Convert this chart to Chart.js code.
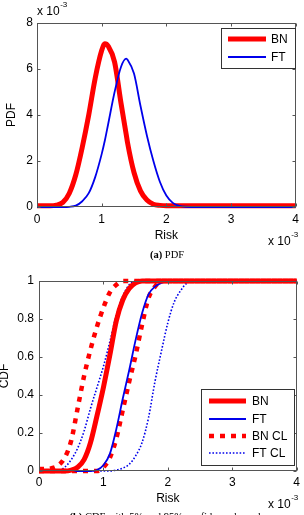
<!DOCTYPE html>
<html>
<head>
<meta charset="utf-8">
<script src="https://cdn.jsdelivr.net/npm/chart.js@4.4.1/dist/chart.umd.min.js"></script>
<style>
  body { margin: 0; background: #fff; width: 304px; height: 515px; overflow: hidden; position: relative; }
  #pdfChart { position: absolute; left: 0; top: 0; }
  #cdfChart { position: absolute; left: 0; top: 262px; }
  .caption { position: absolute; left: 0; width: 334px; text-align: center;
             font-family: "Liberation Serif", "Times New Roman", serif; font-size: 10.5px; color: #000; }
</style>
</head>
<body>
<canvas id="pdfChart" width="304" height="250"></canvas>
<div class="caption" style="top:249px"><b>(a)</b> PDF</div>
<canvas id="cdfChart" width="304" height="253"></canvas>
<div class="caption" style="top:511px"><b>(b)</b> CDF with 5% and 95% confidence bounds</div>
<script>
// risk axis is in units of 1e-3, pdf values in units of 1e-3
const riskTicks = [0, 1, 2, 3, 4];
const pdfTicks = [0, 2, 4, 6, 8];
const cdfTicks = [0, 0.2, 0.4, 0.6, 0.8, 1];

const pdfRisk = [0, 0.2, 0.3, 0.4, 0.5, 0.6, 0.7, 0.8, 0.9, 1.0, 1.05, 1.1, 1.2, 1.3, 1.38, 1.4, 1.5, 1.6, 1.7, 1.8, 1.9, 2.0, 2.1, 2.2, 2.3, 2.5, 3, 4];
const bnPdf   = [0.05, 0.05, 0.08, 0.2, 0.6, 1.4, 2.6, 4.0, 5.6, 6.8, 7.1, 7.0, 6.3, 4.5, 3.15, 2.8, 1.5, 0.7, 0.3, 0.12, 0.07, 0.05, 0.05, 0.05, 0.05, 0.05, 0.05, 0.05];
const ftPdf   = [0, 0, 0, 0, 0.01, 0.06, 0.25, 0.6, 1.3, 2.3, 2.9, 3.6, 5.0, 6.1, 6.45, 6.4, 5.8, 4.4, 3.1, 2.0, 1.1, 0.5, 0.18, 0.05, 0.01, 0, 0, 0];

const cdfRisk = [0, 0.1, 0.2, 0.3, 0.4, 0.5, 0.6, 0.7, 0.8, 0.9, 1.0, 1.1, 1.2, 1.3, 1.4, 1.5, 1.6, 1.7, 1.8, 1.9, 2.0, 2.1, 2.2, 2.3, 2.4, 4];
const bnCdf   = [0, 0, 0, 0, 0, 0.005, 0.02, 0.06, 0.15, 0.29, 0.44, 0.61, 0.79, 0.9, 0.96, 0.99, 1, 1, 1, 1, 1, 1, 1, 1, 1, 1];
const ftCdf   = [0, 0, 0, 0, 0, 0, 0, 0, 0, 0.005, 0.03, 0.09, 0.22, 0.38, 0.53, 0.69, 0.83, 0.93, 0.97, 0.99, 1, 1, 1, 1, 1, 1];
const bnCdfLo = [0.01, 0.01, 0.015, 0.03, 0.07, 0.16, 0.33, 0.5, 0.64, 0.76, 0.86, 0.94, 0.98, 1, 1, 1, 1, 1, 1, 1, 1, 1, 1, 1, 1, 1];
const bnCdfHi = [0, 0, 0, 0, 0, 0, 0, 0, 0, 0, 0.02, 0.07, 0.17, 0.32, 0.47, 0.61, 0.77, 0.91, 0.97, 1, 1, 1, 1, 1, 1, 1];
const ftCdfLo = [0, 0, 0, 0, 0.02, 0.06, 0.12, 0.21, 0.33, 0.44, 0.55, 0.68, 0.82, 0.92, 0.98, 1, 1, 1, 1, 1, 1, 1, 1, 1, 1, 1];
const ftCdfHi = [0, 0, 0, 0, 0, 0, 0, 0, 0, 0, 0, 0, 0.005, 0.015, 0.035, 0.08, 0.15, 0.28, 0.47, 0.63, 0.78, 0.89, 0.95, 0.99, 1, 1];

const RED = 'rgb(255,0,0)';
const BLUE = 'rgb(0,0,235)';
const FONT = '"Liberation Sans", Arial, sans-serif';

function pts(xs, ys) {
  return xs.map((x, i) => ({ x: x, y: ys[i] }));
}

function fixedTicks(list) {
  return function(scale) { scale.ticks = list.map(v => ({ value: v })); };
}

// box + inward tick marks on all four sides, like matlab
const boxAxes = {
  id: 'boxAxes',
  afterDatasetsDraw(chart) {
    const { ctx, chartArea: a, scales } = chart;
    const L = Math.round(a.left) + 0.5, R = Math.round(a.right) - 0.5;
    const T = Math.round(a.top) + 0.5, B = Math.round(a.bottom) - 0.5;
    ctx.save();
    ctx.strokeStyle = '#555';
    ctx.lineWidth = 1;
    ctx.strokeRect(L, T, R - L, B - T);
    ctx.beginPath();
    scales.x.ticks.forEach(t => {
      const px = Math.round(scales.x.getPixelForValue(t.value)) + 0.5;
      ctx.moveTo(px, B); ctx.lineTo(px, B - 3);
      ctx.moveTo(px, T); ctx.lineTo(px, T + 3);
    });
    scales.y.ticks.forEach(t => {
      const py = Math.round(scales.y.getPixelForValue(t.value)) + 0.5;
      ctx.moveTo(L, py); ctx.lineTo(L + 3, py);
      ctx.moveTo(R, py); ctx.lineTo(R - 3, py);
    });
    ctx.stroke();
    ctx.restore();
  }
};

// legend box drawn by hand so the dashed styles show
const boxLegend = {
  id: 'boxLegend',
  afterDraw(chart, args, opts) {
    if (!opts.items) return;
    const ctx = chart.ctx;
    const [l, t, r, b] = opts.box;
    ctx.save();
    ctx.fillStyle = '#fff';
    ctx.fillRect(l, t, r - l, b - t);
    ctx.strokeStyle = '#333';
    ctx.lineWidth = 1;
    ctx.strokeRect(l + 0.5, t + 0.5, r - l, b - t);
    opts.items.forEach((it, i) => {
      const ds = chart.data.datasets[it.ds];
      const y = opts.rows[i];
      ctx.beginPath();
      ctx.strokeStyle = ds.borderColor;
      ctx.lineWidth = ds.borderWidth;
      ctx.setLineDash(ds.borderDash || []);
      ctx.moveTo(opts.lineX[0], y);
      ctx.lineTo(opts.lineX[1], y);
      ctx.stroke();
      ctx.setLineDash([]);
      ctx.fillStyle = '#000';
      ctx.font = '12px ' + FONT;
      ctx.textBaseline = 'middle';
      ctx.fillText(it.text, opts.textX, y + 1);
    });
    ctx.restore();
  }
};

// the "x 10^-3" multiplier labels
const expLabels = {
  id: 'expLabels',
  afterDraw(chart, args, opts) {
    if (!opts.at) return;
    const ctx = chart.ctx;
    ctx.save();
    ctx.fillStyle = '#000';
    ctx.textBaseline = 'middle';
    opts.at.forEach(p => {
      ctx.font = '12px ' + FONT;
      ctx.fillText('x 10', p[0], p[1]);
      const w = ctx.measureText('x 10').width;
      ctx.font = '8px ' + FONT;
      ctx.fillText('-3', p[0] + w + 0.5, p[1] - 7);
    });
    ctx.restore();
  }
};

function axisTitle(text, pad) {
  return { display: true, text: text, color: '#000', font: { family: FONT, size: 12 }, padding: pad };
}
function tickStyle(pad) {
  return {
    color: '#000', font: { family: FONT, size: 12 }, padding: pad,
    callback: v => String(Math.round(v * 10) / 10)
  };
}

new Chart(document.getElementById('pdfChart'), {
  type: 'line',
  data: {
    datasets: [
      { label: 'BN', data: pts(pdfRisk, bnPdf), borderColor: RED, borderWidth: 5, order: 2 },
      { label: 'FT', data: pts(pdfRisk, ftPdf), borderColor: BLUE, borderWidth: 1.8, order: 1 }
    ]
  },
  options: {
    responsive: false,
    animation: false,
    devicePixelRatio: 1,
    layout: { padding: { top: 23, right: 5, left: 0, bottom: 0 } },
    elements: { point: { radius: 0 }, line: { cubicInterpolationMode: 'monotone', fill: false } },
    datasets: { line: { clip: false } },
    scales: {
      x: {
        type: 'linear', min: 0, max: 4,
        afterBuildTicks: fixedTicks(riskTicks),
        afterFit: s => { s.height = 43; },
        grid: { display: false, drawTicks: false }, border: { display: false },
        ticks: tickStyle(5),
        title: axisTitle('Risk', { top: 0, bottom: 7 })
      },
      y: {
        min: 0, max: 8,
        afterBuildTicks: fixedTicks(pdfTicks),
        afterFit: s => { s.width = 37; },
        grid: { display: false, drawTicks: false }, border: { display: false },
        ticks: tickStyle(4),
        title: axisTitle('PDF', { top: 4, bottom: 0 })
      }
    },
    plugins: {
      legend: { display: false },
      tooltip: { enabled: false },
      boxLegend: {
        box: [221, 28, 295, 68], rows: [39, 57], lineX: [228, 266], textX: 271,
        items: [{ ds: 0, text: 'BN' }, { ds: 1, text: 'FT' }]
      },
      expLabels: { at: [[37, 12], [268, 242]] }
    }
  },
  plugins: [boxAxes, boxLegend, expLabels]
});

new Chart(document.getElementById('cdfChart'), {
  type: 'line',
  data: {
    datasets: [
      { label: 'BN', data: pts(cdfRisk, bnCdf), borderColor: RED, borderWidth: 5 },
      { label: 'FT', data: pts(cdfRisk, ftCdf), borderColor: BLUE, borderWidth: 1.8 },
      { label: 'BN CL', data: pts(cdfRisk, bnCdfLo), borderColor: RED, borderWidth: 4.5, borderDash: [5, 6] },
      { label: 'BN CL upper', data: pts(cdfRisk, bnCdfHi), borderColor: RED, borderWidth: 4.5, borderDash: [5, 6] },
      { label: 'FT CL', data: pts(cdfRisk, ftCdfLo), borderColor: BLUE, borderWidth: 1.6, borderDash: [1.6, 1.8] },
      { label: 'FT CL upper', data: pts(cdfRisk, ftCdfHi), borderColor: BLUE, borderWidth: 1.6, borderDash: [1.6, 1.8] }
    ]
  },
  options: {
    responsive: false,
    animation: false,
    devicePixelRatio: 1,
    layout: { padding: { top: 19, right: 5, left: 0, bottom: 0 } },
    elements: { point: { radius: 0 }, line: { cubicInterpolationMode: 'monotone', fill: false } },
    datasets: { line: { clip: false } },
    scales: {
      x: {
        type: 'linear', min: 0, max: 4,
        afterBuildTicks: fixedTicks(riskTicks),
        afterFit: s => { s.height = 44; },
        grid: { display: false, drawTicks: false }, border: { display: false },
        ticks: tickStyle(4),
        title: axisTitle('Risk', { top: 0, bottom: 9 })
      },
      y: {
        min: 0, max: 1,
        afterBuildTicks: fixedTicks(cdfTicks),
        afterFit: s => { s.width = 39; },
        grid: { display: false, drawTicks: false }, border: { display: false },
        ticks: tickStyle(5),
        title: axisTitle('CDF', { top: -2.5, bottom: 0 })
      }
    },
    plugins: {
      legend: { display: false },
      tooltip: { enabled: false },
      boxLegend: {
        box: [201, 127, 294, 203], rows: [139, 157, 174, 191], lineX: [209, 246], textX: 252,
        items: [{ ds: 0, text: 'BN' }, { ds: 1, text: 'FT' }, { ds: 2, text: 'BN CL' }, { ds: 4, text: 'FT CL' }]
      },
      expLabels: { at: [[268, 243]] }
    }
  },
  plugins: [boxAxes, boxLegend, expLabels]
});
</script>
</body>
</html>
